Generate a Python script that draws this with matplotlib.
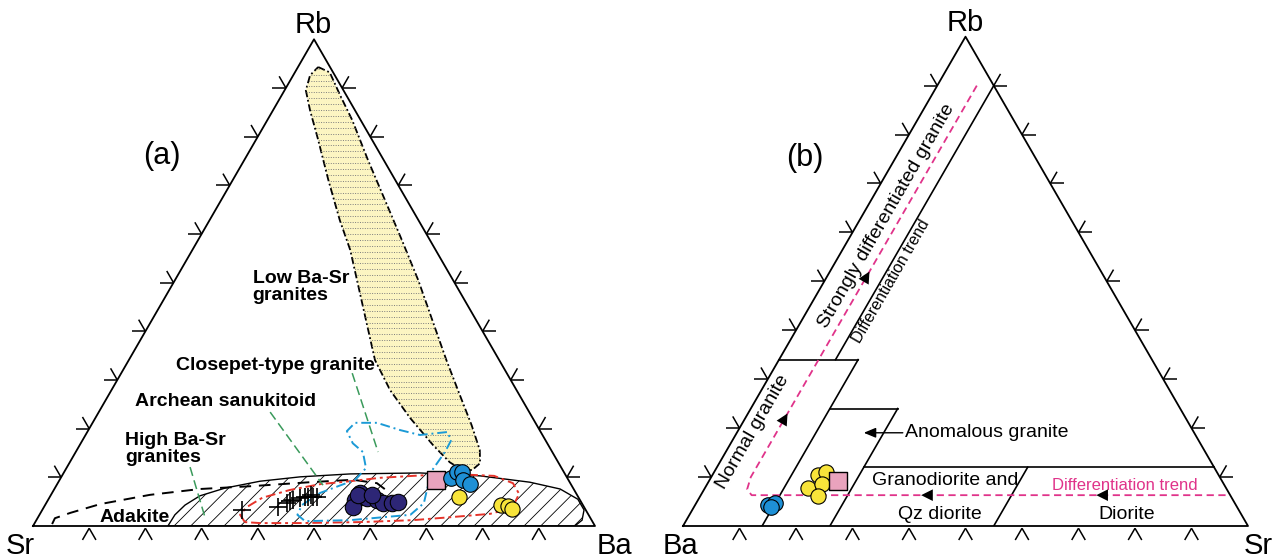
import numpy as np
import matplotlib.pyplot as plt
from matplotlib.patches import Polygon
from matplotlib.collections import LineCollection

plt.rcParams['font.family'] = ['Liberation Sans', 'DejaVu Sans']
plt.rcParams['hatch.linewidth'] = 0.6

H = np.sqrt(3) / 2

# ---------------- data (percent) ----------------
# (a)  Sr left, Ba right, Rb top
a_purple_rb = [5.3, 6.8, 5.7, 5.3, 4.7, 4.7, 4.9, 3.9, 6.4, 6.4]
a_purple_ba = [54.6, 54.8, 56.6, 58.6, 59.9, 61.5, 62.5, 55.0, 54.6, 57.1]
a_purple_sr = [40.1, 38.4, 37.7, 36.1, 35.4, 33.8, 32.6, 41.1, 39.0, 36.5]

a_cross_rb = [3.3, 3.9, 4.7, 5.1, 5.3, 5.7, 6.0, 6.0, 6.4, 6.0, 6.0]
a_cross_ba = [35.5, 41.6, 42.8, 43.2, 43.6, 44.7, 45.4, 45.9, 46.3, 46.8, 47.5]
a_cross_sr = [61.2, 54.5, 52.5, 51.7, 51.1, 49.6, 48.6, 48.1, 47.3, 47.2, 46.5]

a_blue_rb = [9.9, 11.1, 11.1, 9.4, 8.6]
a_blue_ba = [69.4, 69.9, 70.8, 71.8, 73.5]
a_blue_sr = [20.7, 19.0, 18.1, 18.8, 17.9]

a_pink_rb, a_pink_ba, a_pink_sr = [9.4], [67.0], [23.6]

a_yellow_rb = [6.0, 4.3, 4.1, 3.5]
a_yellow_ba = [72.8, 81.1, 82.5, 83.5]
a_yellow_sr = [21.2, 14.6, 13.4, 13.0]

# field outlines in (a): Rb and Ba, Sr = 100 - Rb - Ba
lowbasr_rb = [94.3, 93.2, 88.5, 83.4, 75.2, 66.9, 58.7, 50.5, 42.3, 34.1, 26.9, 20.7, 15.6, 12.9, 11.5,
              11.5, 13.1, 16.6, 22.2, 27.9, 34.1, 42.3, 49.5, 56.7, 62.8, 71.1, 79.3, 85.4, 89.5, 92.6]
lowbasr_ba = [3.6, 6.2, 10.4, 15.1, 22.0, 29.2, 36.3, 43.3, 49.9, 56.5, 62.5, 67.7, 71.7, 73.1, 72.4,
              70.6, 67.6, 62.9, 56.0, 49.6, 43.8, 38.1, 33.1, 28.1, 23.2, 17.0, 11.1, 6.6, 3.8, 3.0]

highbasr_rb = [0, 2.3, 4.3, 6.2, 7.8, 9.2, 10.1, 10.7, 10.9, 10.3, 9.0, 7.6, 5.5, 3.3, 1.2, 0]
highbasr_ba = [24.0, 24.1, 24.9, 26.6, 30.3, 35.8, 42.5, 51.1, 63.4, 74.4, 83.9, 90.0, 94.2, 96.4, 97.1, 96.4]

adakite_rb = [0.4, 1.6, 2.7, 4.5, 6.4, 7.6, 8.2, 9.0, 9.5, 8.8, 7.4]
adakite_ba = [3.2, 3.1, 5.3, 9.7, 17.6, 25.9, 35.0, 44.8, 52.2, 56.8, 59.1]

sanuk_rb = [0.8, 2.3, 3.9, 5.8, 7.4, 8.6, 9.2, 9.9, 10.3, 10.7, 10.3, 8.8, 6.6, 3.7, 2.5, 1.8, 1.2, 0.8, 0.6, 0.6]
sanuk_ba = [37.3, 35.7, 36.1, 37.9, 42.0, 46.8, 51.8, 56.8, 62.5, 68.9, 76.9, 81.0, 83.2, 83.4, 80.1, 73.3,
            67.0, 57.8, 47.2, 40.1]

closepet_rb = [19.3, 18.7, 19.7, 21.2, 21.2, 19.5, 17.0, 15.2, 11.9, 9.5, 6.8, 4.3, 2.3, 1.0, 1.2, 2.3, 4.7,
               8.4, 11.5, 15.2, 17.7]
closepet_ba = [64.0, 59.5, 55.5, 50.6, 46.7, 46.1, 48.4, 51.1, 53.3, 52.6, 47.7, 45.7, 45.9, 47.9, 55.8, 66.0,
               67.2, 66.1, 65.3, 65.7, 65.6]

# leader lines (Rb, Ba) start -> end
leaders_a = [((31.4, 41.1), (15.2, 53.8)),
             ((23.4, 30.5), (8.4, 47.4)),
             ((12.1, 21.9), (1.8, 29.7))]

# (b)  Ba left, Sr right, Rb top
b_blue_rb = [4.3, 4.7, 3.9]
b_blue_ba = [82.8, 81.4, 82.5]
b_blue_sr = [12.9, 13.9, 13.6]

b_yellow_rb = [7.8, 10.4, 11.0, 8.6, 6.1]
b_yellow_ba = [74.0, 70.9, 69.2, 71.1, 73.1]
b_yellow_sr = [18.2, 18.7, 19.8, 20.3, 20.8]

b_pink_rb, b_pink_ba, b_pink_sr = [9.2], [68.0], [22.8]

# field boundaries in (b): (Rb, Sr) start -> end
b_fields = [((90, 10), (34, 10)),
            ((34, 0), (34, 14)),
            ((34, 14), (0, 14)),
            ((24, 14), (24, 26)),
            ((24, 26), (0, 26)),
            ((12, 26), (12, 88)),
            ((12, 55), (0, 55))]

# differentiation trend (Rb, Sr)
trend_rb = [90, 10, 7.5, 6.3, 6.3]
trend_sr = [7, 7, 7.6, 9, 93]
# arrowheads on the trend: (Rb, Sr) tail -> tip
trend_arrows = [((48, 7), (52, 7)), ((19, 7), (23, 7)),
                ((6.3, 42), (6.3, 39)), ((6.3, 73), (6.3, 70))]


def tern_a(rb, ba, sr=None):
    rb = np.asarray(rb, float); ba = np.asarray(ba, float)
    sr = 100 - rb - ba if sr is None else np.asarray(sr, float)
    s = rb + ba + sr
    return (ba + rb / 2) / s, rb * H / s


def tern_b(rb, sr, ba=None):
    rb = np.asarray(rb, float); sr = np.asarray(sr, float)
    ba = 100 - rb - sr if ba is None else np.asarray(ba, float)
    s = rb + ba + sr
    return (sr + rb / 2) / s, rb * H / s


def frame(ax):
    ax.set_xlim(0, 1)
    ax.set_ylim(0, H)
    ax.axis('off')
    ax.plot([0, 1, 0.5, 0], [0, 0, H, 0], color='k', lw=1.3, clip_on=False, zorder=6)
    L = 0.024
    segs = []
    for t in np.arange(1, 10) / 10:
        for p, angs in (((t, -0.004), (240, 300)), ((t / 2, t * H), (180, 120)), ((1 - t / 2, t * H), (0, 60))):
            p = np.array(p)
            for a in angs:
                r = np.radians(a)
                segs.append([p, p + L * np.array([np.cos(r), np.sin(r)])])
    ax.add_collection(LineCollection(segs, colors='k', linewidths=1.1, clip_on=False))


fig = plt.figure(figsize=(12.88, 5.6), dpi=100)
axa = fig.add_axes([33 / 1288, 34 / 560, 562 / 1288, 562 * H / 560])
axb = fig.add_axes([683 / 1288, 34 / 560, 565 / 1288, 565 * H / 560])

# ---------------- (a) ----------------
frame(axa)

x, y = tern_a(highbasr_rb, highbasr_ba)
axa.add_patch(Polygon(np.c_[x, y], closed=True, facecolor='white', edgecolor='k',
                      hatch='//', lw=1.0, zorder=1))

x, y = tern_a(lowbasr_rb, lowbasr_ba)
field = Polygon(np.c_[x, y], closed=True, facecolor='#FCF5C2', edgecolor='k',
                ls=(0, (4, 1.5, 1, 1.5)), lw=1.3, zorder=2)
axa.add_patch(field)
for yy in np.arange(y.min(), y.max(), 0.0105):
    ln, = axa.plot([x.min(), x.max()], [yy, yy], ls=(0, (1, 1.5)), color='#7d7d7d', lw=0.7, zorder=2)
    ln.set_clip_path(field)

x, y = tern_a(adakite_rb, adakite_ba)
axa.plot(x, y, color='k', ls=(0, (6, 4)), lw=1.4, zorder=3)

x, y = tern_a(sanuk_rb + sanuk_rb[:1], sanuk_ba + sanuk_ba[:1])
axa.plot(x, y, color='#E5332A', ls=(0, (5, 2, 1.5, 2)), lw=1.4, zorder=3)

x, y = tern_a(closepet_rb + closepet_rb[:1], closepet_ba + closepet_ba[:1])
axa.plot(x, y, color='#1B9AD6', ls=(0, (5, 2, 1, 2)), lw=1.4, zorder=3)

for (r0, b0), (r1, b1) in leaders_a:
    x, y = tern_a([r0, r1], [b0, b1])
    axa.plot(x, y, color='#3A9A5B', ls=(0, (6, 3)), lw=1.1, zorder=3)

x, y = tern_a(a_cross_rb, a_cross_ba, a_cross_sr)
axa.scatter(x, y, marker='+', s=150, c='k', linewidths=1.2, zorder=5)
x, y = tern_a(a_purple_rb, a_purple_ba, a_purple_sr)
axa.scatter(x, y, s=140, c='#2D2676', edgecolors='k', linewidths=0.8, zorder=5)
x, y = tern_a(a_pink_rb, a_pink_ba, a_pink_sr)
axa.scatter(x, y, marker='s', s=150, c='#E9A3BD', edgecolors='k', linewidths=1.0, zorder=5)
x, y = tern_a(a_blue_rb, a_blue_ba, a_blue_sr)
axa.scatter(x, y, s=125, c='#1E90D6', edgecolors='k', linewidths=0.8, zorder=5)
x, y = tern_a(a_yellow_rb, a_yellow_ba, a_yellow_sr)
axa.scatter(x, y, s=120, c='#F8E43A', edgecolors='k', linewidths=0.8, zorder=5)

axa.text(0.498, 0.891, 'Rb', fontsize=21, ha='center', va='center')
axa.text(-0.023, -0.035, 'Sr', fontsize=21, ha='center', va='center')
axa.text(1.034, -0.035, 'Ba', fontsize=21, ha='center', va='center')
axa.text(0.230, 0.658, '(a)', fontsize=22, ha='center', va='center')
bold = dict(fontsize=14, fontweight='bold', zorder=7)
axa.text(0.391, 0.425, 'Low Ba-Sr\ngranites', ha='left', va='center', linespacing=1.0, **bold)
axa.text(0.432, 0.286, 'Closepet-type granite', ha='center', va='center', **bold)
axa.text(0.342, 0.221, 'Archean sanukitoid', ha='center', va='center', **bold)
axa.text(0.164, 0.137, 'High Ba-Sr\ngranites', ha='left', va='center', linespacing=0.95, **bold)
axa.text(0.180, 0.016, 'Adakite', ha='center', va='center', **bold)

# ---------------- (b) ----------------
frame(axb)
for (r0, s0), (r1, s1) in b_fields:
    x, y = tern_b([r0, r1], [s0, s1])
    axb.plot(x, y, color='k', lw=1.2, zorder=3)

x, y = tern_b(trend_rb, trend_sr)
axb.plot(x, y, color='#E0338A', ls=(0, (4, 2.5)), lw=1.3, zorder=3)
for (r0, s0), (r1, s1) in trend_arrows:
    x, y = tern_b([r0, r1], [s0, s1])
    axb.annotate('', xy=(x[1], y[1]), xytext=(x[0], y[0]),
                 arrowprops=dict(arrowstyle='-|>,head_length=0.6,head_width=0.3', color='k',
                                 lw=0, shrinkA=0, shrinkB=0, mutation_scale=14), zorder=4)

axb.annotate('', xy=(0.320, 0.165), xytext=(0.389, 0.165),
             arrowprops=dict(arrowstyle='-|>,head_length=0.6,head_width=0.25', color='k',
                             lw=1.0, shrinkA=0, shrinkB=0, mutation_scale=12))

x, y = tern_b(b_blue_rb, b_blue_sr, b_blue_ba)
axb.scatter(x, y, s=125, c='#1E90D6', edgecolors='k', linewidths=0.8, zorder=5)
x, y = tern_b(b_yellow_rb, b_yellow_sr, b_yellow_ba)
axb.scatter(x, y, s=120, c='#F8E43A', edgecolors='k', linewidths=0.8, zorder=5)
x, y = tern_b(b_pink_rb, b_pink_sr, b_pink_ba)
axb.scatter(x, y, marker='s', s=150, c='#E9A3BD', edgecolors='k', linewidths=1.0, zorder=5)

axb.text(0.499, 0.891, 'Rb', fontsize=21, ha='center', va='center')
axb.text(-0.004, -0.035, 'Ba', fontsize=21, ha='center', va='center')
axb.text(1.018, -0.035, 'Sr', fontsize=21, ha='center', va='center')
axb.text(0.216, 0.651, '(b)', fontsize=22, ha='center', va='center')
rot = dict(rotation=60, rotation_mode='anchor', ha='center', va='center')
axb.text(0.361, 0.549, 'Strongly differentiated granite', fontsize=14, **rot)
axb.text(0.368, 0.434, 'Differentiation trend', fontsize=11.5, **rot)
axb.text(0.124, 0.166, 'Normal granite', fontsize=14, **rot)
axb.text(0.393, 0.165, 'Anomalous granite', fontsize=14, ha='left', va='center')
axb.text(0.464, 0.081, 'Granodiorite and', fontsize=14, ha='center', va='center')
axb.text(0.455, 0.021, 'Qz diorite', fontsize=14, ha='center', va='center')
axb.text(0.782, 0.071, 'Differentiation trend', fontsize=12, color='#E0338A', ha='center', va='center')
axb.text(0.786, 0.021, 'Diorite', fontsize=14, ha='center', va='center')

fig.savefig('out.png', dpi=100)
